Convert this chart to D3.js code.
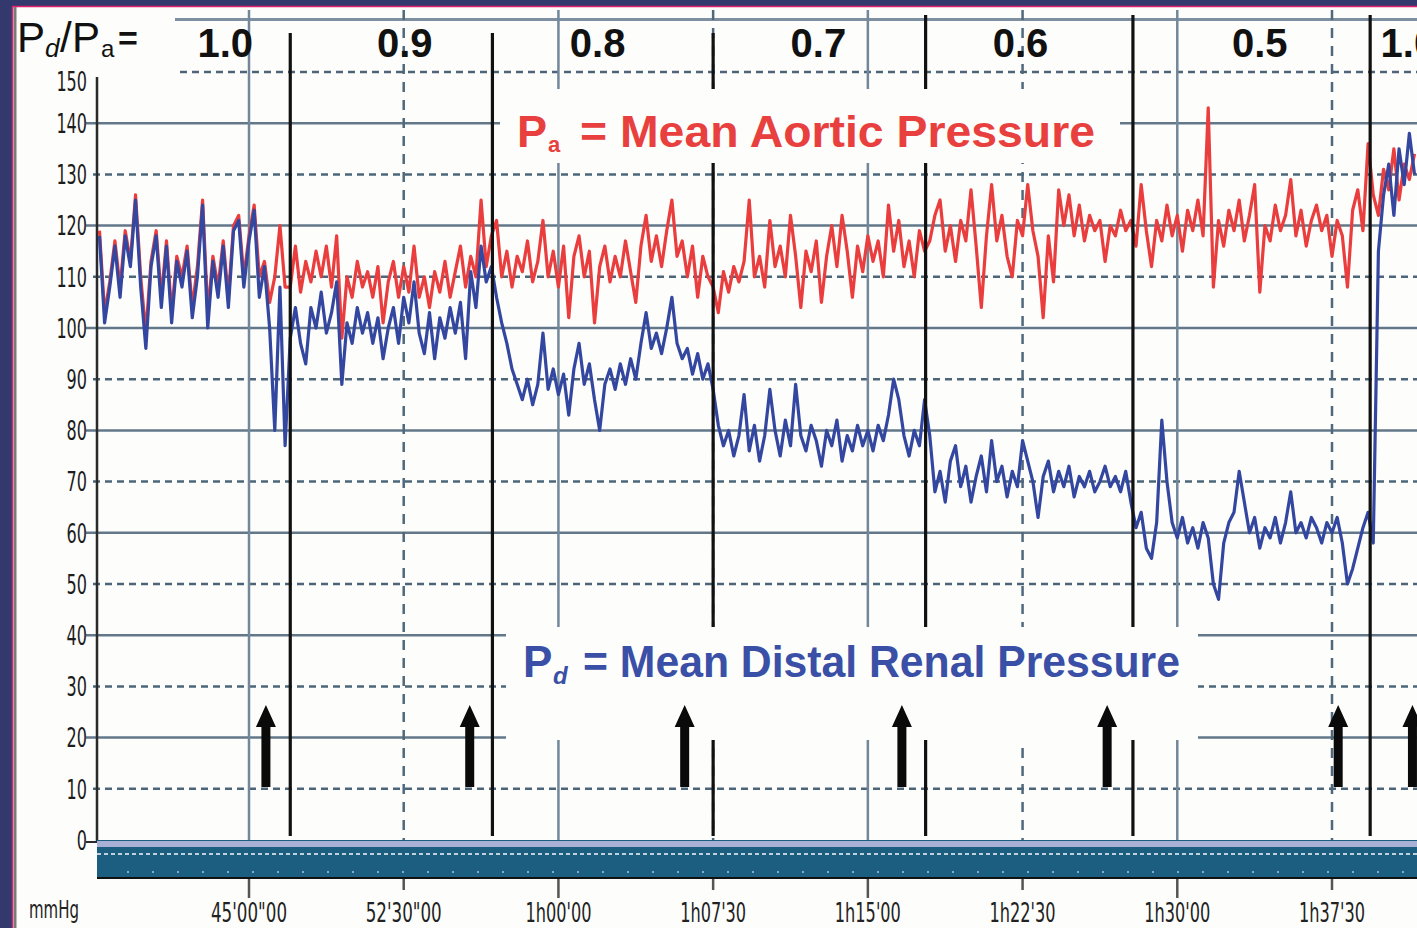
<!DOCTYPE html>
<html>
<head>
<meta charset="utf-8">
<script src="https://cdn.jsdelivr.net/npm/d3@7"></script>
<style>
html, body { margin: 0; padding: 0; background: #fff; overflow: hidden; }
svg { display: block; }
</style>
</head>
<body>
<script>
// samples are every 0.25 min, starting at 37.75 min
const t0 = 37.75, dt = 0.25;

// Pa, mean aortic pressure (mmHg)
const pa = [
  119,103,109,117,108,119,113,126,110,99,113,119,106,117,103,114,110,116,104,112,125,103,114,108,117,106,120,122,110,118,124,110,113,105,110,120,108,
  108,116,107,113,109,115,110,116,108,118,98,110,106,113,108,111,106,112,101,109,113,106,112,107,116,106,110,104,111,107,113,106,111,116,108,114,110,125,112,118,
  121,110,115,108,114,111,117,109,113,121,110,115,108,116,102,114,118,110,115,101,112,116,109,114,110,117,111,105,116,122,113,118,112,119,125,114,117,110,116,106,114,110,
  108,103,111,107,112,109,113,125,110,114,108,121,112,116,110,122,114,104,115,111,117,105,114,120,112,122,115,106,116,111,118,113,117,110,124,115,121,112,117,110,119,115,
  117,122,125,115,120,113,121,117,127,116,104,118,128,117,122,114,110,121,118,128,119,114,102,118,109,127,120,126,118,124,117,122,119,121,113,120,118,123,119,121,
  116,128,119,112,121,117,124,118,122,115,123,119,125,118,143,108,121,116,123,119,125,117,122,128,107,120,117,124,119,122,129,118,123,116,121,124,119,122,114,121,118,108,123,127,119,136,126,122,131,127,135,125,132,129,134
];

// Pd, mean distal renal pressure (mmHg)
const pd = [
  118,101,108,116,106,118,112,125,108,96,112,118,104,116,101,113,108,115,102,110,124,100,113,106,116,104,119,121,108,117,123,106,112,100,80,108,77,
  98,104,97,93,104,100,107,99,103,109,89,101,97,104,99,103,97,102,94,100,104,97,106,101,109,99,95,103,94,102,98,104,99,105,94,111,104,116,109,112,
  106,101,97,92,89,86,90,85,89,99,88,92,87,91,83,92,97,89,93,86,80,89,92,88,93,89,94,90,97,103,96,99,95,100,106,97,94,96,91,95,90,93,
  88,81,77,80,75,79,87,76,81,74,79,88,80,75,82,77,89,79,76,81,78,73,80,77,82,74,79,76,81,77,80,76,81,78,83,90,86,79,75,80,77,86,
  79,68,72,66,74,77,69,73,66,71,75,68,78,70,73,67,72,69,78,74,70,63,71,74,68,72,69,73,67,71,69,72,68,70,73,69,71,68,72,66,
  61,64,57,55,62,82,70,62,59,63,58,61,57,62,59,50,47,58,62,64,72,66,60,63,57,61,59,63,58,62,68,60,62,59,63,61,58,62,60,63,58,50,53,57,61,64,58,115,126,132,122,135,128,138,130
];

const yTicks = [0,10,20,30,40,50,60,70,80,90,100,110,120,130,140,150];
const timeTicks = [45, 52.5, 60, 67.5, 75, 82.5, 90, 97.5];
const timeLabels = ["45'00\"00", "52'30\"00", "1h00'00", "1h07'30", "1h15'00", "1h22'30", "1h30'00", "1h37'30"];

// Pd/Pa steps
const phaseBounds = [47.0, 56.8, 67.5, 77.8, 87.85, 99.35];
const phaseTop = [33, 33, 33, 15, 15, 15];
const ratioLabels = ["1.0", "0.9", "0.8", "0.7", "0.6", "0.5", "1.0"];
const ratioAt = [43.85, 52.55, 61.9, 72.6, 82.4, 94.0, 101.2];
const arrowTimes = [45.82, 55.7, 66.12, 76.65, 86.6, 97.8, 101.4];

const W = 1417, H = 928;
const x = d3.scaleLinear().domain([45, 97.5]).range([249, 1332]);
const y = d3.scaleLinear().domain([0, 150]).range([840, 72]);
const left = 97;

const svg = d3.select("body").append("svg")
  .attr("width", W).attr("height", H);

// scan frame
svg.append("rect").attr("width", W).attr("height", H).attr("fill", "#33396d");
svg.append("rect").attr("x", 13).attr("y", 7).attr("width", W).attr("height", H).attr("fill", "#fdfdfb");
svg.append("line").attr("x1", 12.5).attr("x2", 12.5).attr("y1", 6).attr("y2", H)
  .attr("stroke", "#e0206e").attr("stroke-width", 1.5);
svg.append("line").attr("x1", 12).attr("x2", W).attr("y1", 6.5).attr("y2", 6.5)
  .attr("stroke", "#e0206e").attr("stroke-width", 1.5);
svg.append("line").attr("x1", 15).attr("x2", 15).attr("y1", 7).attr("y2", H)
  .attr("stroke", "#7a7a7a").attr("stroke-width", 3);

// horizontal grid
yTicks.filter(v => v > 0).forEach(v => {
  const major = v % 20 === 0;
  svg.append("line")
    .attr("x1", v === 150 ? 180 : (major ? 86 : 93)).attr("x2", W)
    .attr("y1", y(v)).attr("y2", y(v))
    .attr("stroke", major ? "#62788a" : "#4c6579")
    .attr("stroke-width", 2.5)
    .attr("stroke-dasharray", major ? null : "7 5");
});
// top rule
svg.append("line").attr("x1", 175).attr("x2", W).attr("y1", 19.5).attr("y2", 19.5)
  .attr("stroke", "#7d8fa0").attr("stroke-width", 3);

// vertical grid
timeTicks.forEach((t, i) => {
  const major = i % 2 === 0;
  svg.append("line")
    .attr("x1", x(t)).attr("x2", x(t)).attr("y1", 10).attr("y2", 879)
    .attr("stroke", major ? "#72879a" : "#4f687c")
    .attr("stroke-width", 2.5)
    .attr("stroke-dasharray", major ? null : "10 8");
  svg.append("line")
    .attr("x1", x(t)).attr("x2", x(t)).attr("y1", 879).attr("y2", major ? 898 : 890)
    .attr("stroke", "#555").attr("stroke-width", 2.5);
});

// y axis
svg.append("line").attr("x1", left).attr("x2", left).attr("y1", 77).attr("y2", 842)
  .attr("stroke", "#2b2b2b").attr("stroke-width", 2.5);
svg.append("line").attr("x1", 86).attr("x2", left).attr("y1", 842).attr("y2", 842)
  .attr("stroke", "#2b2b2b").attr("stroke-width", 2);

const narrow = "'Liberation Sans Narrow', 'DejaVu Sans Condensed', 'Arial Narrow', sans-serif";
const labelNudge = {150: 9};
svg.append("g").selectAll("text").data(yTicks).join("text")
  .attr("x", 87)
  .attr("y", d => y(d) + (labelNudge[d] || 0))
  .attr("dy", "0.36em")
  .attr("text-anchor", "end")
  .attr("font-family", narrow)
  .attr("font-size", 27)
  .attr("fill", "#1c1c1c")
  .attr("textLength", d => String(d).length * 10.2)
  .attr("lengthAdjust", "spacingAndGlyphs")
  .text(d => d);

// event strip
svg.append("rect").attr("x", left).attr("y", 840).attr("width", W - left).attr("height", 39)
  .attr("fill", "#1c5e7f");
svg.append("rect").attr("x", left).attr("y", 841).attr("width", W - left).attr("height", 6)
  .attr("fill", "#a9b1d7");
svg.append("line").attr("x1", left).attr("x2", W).attr("y1", 854).attr("y2", 854)
  .attr("stroke", "#e8eef4").attr("stroke-width", 2).attr("stroke-dasharray", "4 3")
  .attr("opacity", 0.8);
svg.append("line").attr("x1", left + 30).attr("x2", W).attr("y1", 872).attr("y2", 872)
  .attr("stroke", "#cfe0ea").attr("stroke-width", 2).attr("stroke-dasharray", "2 23")
  .attr("opacity", 0.6);
svg.append("line").attr("x1", left).attr("x2", W).attr("y1", 878).attr("y2", 878)
  .attr("stroke", "#111").attr("stroke-width", 2);

// time labels
svg.append("g").selectAll("text").data(timeTicks).join("text")
  .attr("x", d => x(d))
  .attr("y", 922)
  .attr("text-anchor", "middle")
  .attr("font-family", narrow)
  .attr("font-size", 26)
  .attr("fill", "#222")
  .attr("textLength", (d, i) => timeLabels[i].length > 7 ? 76 : 66)
  .attr("lengthAdjust", "spacingAndGlyphs")
  .text((d, i) => timeLabels[i]);

svg.append("text").attr("x", 29).attr("y", 918)
  .attr("font-family", narrow).attr("font-size", 25).attr("fill", "#222")
  .attr("textLength", 50).attr("lengthAdjust", "spacingAndGlyphs")
  .text("mmHg");

// traces
const line = d3.line()
  .x((d, i) => x(t0 + dt * i))
  .y(d => y(d));

svg.append("path").datum(pa)
  .attr("d", line)
  .attr("fill", "none")
  .attr("stroke", "#ea3d3d")
  .attr("stroke-width", 3.2)
  .attr("stroke-linejoin", "round");

svg.append("path").datum(pd)
  .attr("d", line)
  .attr("fill", "none")
  .attr("stroke", "#3447a0")
  .attr("stroke-width", 3.2)
  .attr("stroke-linejoin", "round");

// phase separators
phaseBounds.forEach((t, i) => {
  svg.append("line")
    .attr("x1", x(t)).attr("x2", x(t)).attr("y1", phaseTop[i]).attr("y2", 836)
    .attr("stroke", "#111").attr("stroke-width", 3.2);
});

// label boxes
svg.append("rect").attr("x", 500).attr("y", 89).attr("width", 620).attr("height", 74).attr("fill", "#fdfdfb");
svg.append("rect").attr("x", 506).attr("y", 627).attr("width", 692).attr("height", 113).attr("fill", "#fdfdfb");

const bold = "'Liberation Sans', Arial, Helvetica, sans-serif";

// Pa legend
svg.append("text").attr("x", 517).attr("y", 147)
  .attr("font-family", bold).attr("font-weight", "bold").attr("font-size", 45)
  .attr("fill", "#e8403e").text("P");
svg.append("text").attr("x", 548).attr("y", 152)
  .attr("font-family", bold).attr("font-weight", "bold").attr("font-size", 22)
  .attr("fill", "#e8403e").text("a");
svg.append("text").attr("x", 580).attr("y", 147)
  .attr("font-family", bold).attr("font-weight", "bold").attr("font-size", 45)
  .attr("fill", "#e8403e")
  .attr("textLength", 515).attr("lengthAdjust", "spacingAndGlyphs")
  .text("= Mean Aortic Pressure");

// Pd legend
svg.append("text").attr("x", 523).attr("y", 677)
  .attr("font-family", bold).attr("font-weight", "bold").attr("font-size", 44)
  .attr("fill", "#3a4fa6").text("P");
svg.append("text").attr("x", 553).attr("y", 684)
  .attr("font-family", bold).attr("font-weight", "bold").attr("font-style", "italic").attr("font-size", 24)
  .attr("fill", "#3a4fa6").text("d");
svg.append("text").attr("x", 583).attr("y", 677)
  .attr("font-family", bold).attr("font-weight", "bold").attr("font-size", 44)
  .attr("fill", "#3a4fa6")
  .attr("textLength", 597).attr("lengthAdjust", "spacingAndGlyphs")
  .text("= Mean Distal Renal Pressure");

// Pd/Pa= header
const hdr = svg.append("g").attr("font-family", bold).attr("fill", "#111");
hdr.append("text").attr("x", 17).attr("y", 52).attr("font-size", 42).text("P");
hdr.append("text").attr("x", 45).attr("y", 57).attr("font-size", 26).attr("font-style", "italic").text("d");
hdr.append("text").attr("x", 60).attr("y", 52).attr("font-size", 42).text("/");
hdr.append("text").attr("x", 72).attr("y", 52).attr("font-size", 42).text("P");
hdr.append("text").attr("x", 101).attr("y", 57).attr("font-size", 24).text("a");
hdr.append("text").attr("x", 118).attr("y", 50).attr("font-size", 34).attr("font-weight", "bold").text("=");

svg.append("g").selectAll("text").data(ratioLabels).join("text")
  .attr("x", (d, i) => x(ratioAt[i]))
  .attr("y", 57)
  .attr("text-anchor", "middle")
  .attr("font-family", bold)
  .attr("font-weight", "bold")
  .attr("font-size", 40)
  .attr("fill", "#111")
  .text(d => d);

// injection arrows
svg.append("g").selectAll("path").data(arrowTimes).join("path")
  .attr("d", t => {
    const c = x(t);
    return `M${c},705 L${c + 10},727 L${c + 4.5},727 L${c + 4.5},787 L${c - 4.5},787 L${c - 4.5},727 L${c - 10},727 Z`;
  })
  .attr("fill", "#0a0a0a");
</script>
</body>
</html>
